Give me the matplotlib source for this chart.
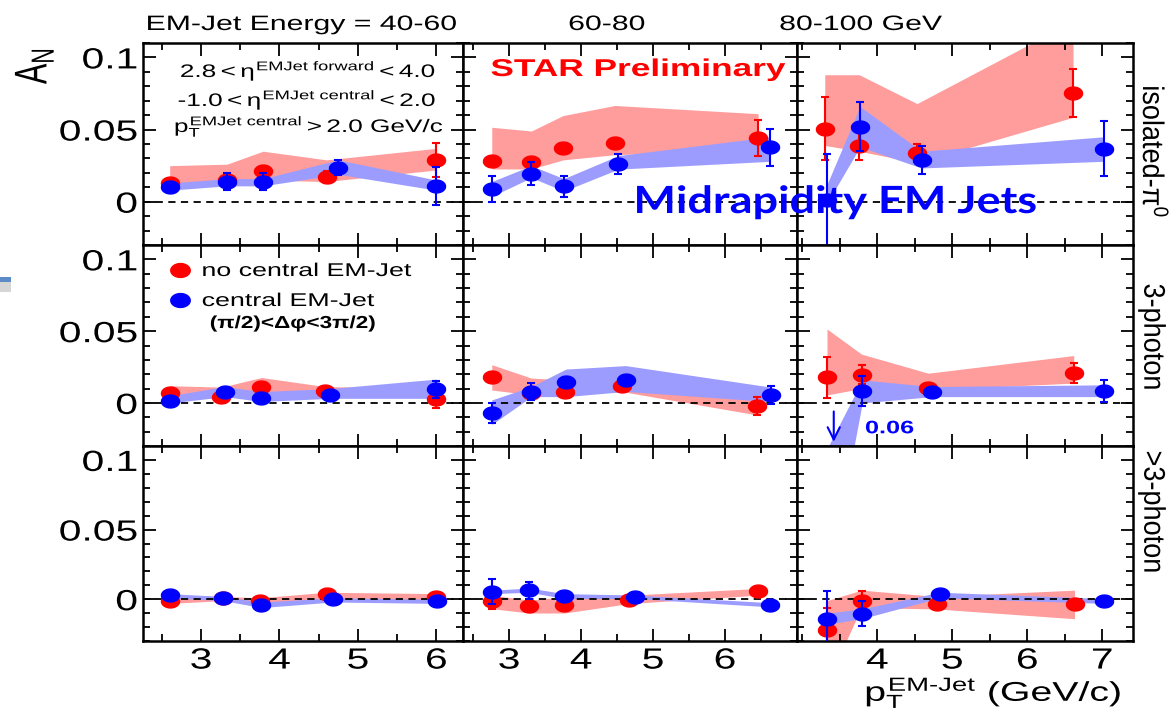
import numpy as np
import matplotlib
matplotlib.use("Agg")
import matplotlib.pyplot as plt
from matplotlib.path import Path
from matplotlib.patheffects import AbstractPathEffect
from matplotlib.transforms import Affine2D
from matplotlib.ticker import MultipleLocator

plt.rcParams['font.family'] = ['Liberation Sans', 'DejaVu Sans']
plt.rcParams['mathtext.fontset'] = 'custom'
plt.rcParams['mathtext.rm'] = 'Liberation Sans'
plt.rcParams['mathtext.it'] = 'Liberation Sans'
plt.rcParams['mathtext.bf'] = 'Liberation Sans:bold'

# A_N vs pT, three EM-jet energy bins (40-60, 60-80, 80-100 GeV) per list
# red = no central EM-jet, blue = with central EM-jet

# --- isolated pi0 ---
iso_red_pt = [[2.6, 3.33, 3.79, 4.6, 6.0], [2.76, 3.31, 3.75, 4.47, 6.46], [3.30, 3.76, 4.53, 6.61]]
iso_red_an = [[0.013, 0.015, 0.021, 0.017, 0.029], [0.028, 0.0276, 0.037, 0.041, 0.044], [0.0507, 0.0389, 0.0338, 0.0755]]
iso_red_err = [[0.003, 0.004, 0.004, 0.004, 0.012], [0.003, 0.003, 0.003, 0.003, 0.0125], [0.022, 0.0097, 0.006, 0.0167]]
iso_red_lo = [[0.010, 0.013, 0.015, 0.014, 0.022], [0.0227, 0.0227, 0.029, 0.0326, 0.036], [0.039, 0.035, 0.027, 0.0585]]
iso_red_hi = [[0.025, 0.026, 0.035, 0.029, 0.037], [0.0516, 0.049, 0.0597, 0.0667, 0.061], [0.088, 0.088, 0.068, 0.125]]
iso_blue_pt = [[2.6, 3.33, 3.79, 4.75, 6.0], [2.76, 3.31, 3.76, 4.52, 6.63], [3.33, 3.77, 4.59, 7.02]]
iso_blue_an = [[0.0105, 0.014, 0.014, 0.0236, 0.011], [0.0088, 0.0194, 0.0106, 0.0264, 0.0377], [0.0014, 0.052, 0.0287, 0.0368]]
iso_blue_err = [[0.003, 0.006, 0.006, 0.005, 0.013], [0.0087, 0.008, 0.0075, 0.007, 0.013], [0.032, 0.017, 0.0098, 0.019]]
iso_blue_lo = [[0.008, 0.011, 0.011, 0.019, 0.008], [0.0037, 0.0167, 0.0074, 0.0226, 0.028], [-0.001, 0.038, 0.0234, 0.028]]
iso_blue_hi = [[0.013, 0.016, 0.016, 0.029, 0.015], [0.014, 0.025, 0.016, 0.032, 0.045], [0.012, 0.066, 0.035, 0.045]]

# --- 3-photon ---
three_red_pt = [[2.6, 3.26, 3.77, 4.58, 6.0], [2.76, 3.31, 3.78, 4.57, 6.45], [3.33, 3.79, 4.68, 6.62]]
three_red_an = [[0.0072, 0.0044, 0.0114, 0.0084, 0.0026], [0.0184, 0.0072, 0.0079, 0.0121, -0.0021], [0.018, 0.0196, 0.0107, 0.0207]]
three_red_err = [[0.002, 0.002, 0.002, 0.002, 0.006], [0.003, 0.003, 0.002, 0.002, 0.006], [0.0143, 0.0065, 0.002, 0.007]]
three_red_lo = [[0.004, 0.003, 0.006, 0.006, 0.004], [0.009, 0.0056, 0.0056, 0.0079, -0.0084], [0.0056, 0.010, 0.0091, 0.0138]]
three_red_hi = [[0.012, 0.011, 0.0177, 0.0114, 0.010], [0.0266, 0.0173, 0.016, 0.0121, 0.0033], [0.0515, 0.034, 0.0207, 0.033]]
three_blue_pt = [[2.6, 3.3, 3.77, 4.64, 6.0], [2.76, 3.31, 3.79, 4.62, 6.64], [3.33, 3.8, 4.73, 7.02]]
three_blue_an = [[0.0016, 0.0079, 0.0037, 0.0056, 0.0096], [-0.0068, 0.0079, 0.0149, 0.016, 0.0056], [-0.06, 0.0086, 0.0079, 0.0084]]
three_blue_err = [[0.002, 0.002, 0.002, 0.002, 0.006], [0.007, 0.006, 0.003, 0.003, 0.006], [0.01, 0.0105, 0.002, 0.0076]]
three_blue_lo = [[-0.0001, 0.0044, 0.001, 0.0032, 0.0032], [-0.015, 0.0044, 0.0044, 0.008, 0.0009], [-0.13, 0.0, 0.0044, 0.0044]]
three_blue_hi = [[0.005, 0.0114, 0.0079, 0.010, 0.0166], [0.0021, 0.0114, 0.0236, 0.026, 0.011], [-0.032, 0.016, 0.0114, 0.0126]]

# --- >3-photon ---
more_red_pt = [[2.6, 3.28, 3.75, 4.6, 6.0], [2.76, 3.28, 3.77, 4.67, 6.46], [3.33, 3.79, 4.79, 6.63]]
more_red_an = [[-0.0012, 0.001, -0.0012, 0.0034, 0.0017], [-0.0012, -0.0049, -0.0039, -0.0007, 0.0058], [-0.022, -0.0012, -0.0036, -0.0036]]
more_red_err = [[0.002, 0.002, 0.002, 0.002, 0.002], [0.0057, 0.002, 0.002, 0.002, 0.002], [0.016, 0.007, 0.002, 0.002]]
more_red_lo = [[-0.003, -0.001, -0.004, 0.0, -0.001], [-0.0068, -0.0099, -0.0099, -0.0031, 0.0029], [-0.06, -0.006, -0.007, -0.014]]
more_red_hi = [[0.003, 0.002, 0.001, 0.005, 0.004], [0.0029, -0.0007, 0.0017, 0.0029, 0.0077], [-0.001, 0.0065, 0.002, 0.0065]]
more_blue_pt = [[2.6, 3.28, 3.77, 4.68, 6.01], [2.76, 3.28, 3.77, 4.75, 6.63], [3.33, 3.79, 4.83, 7.02]]
more_blue_an = [[0.0029, 0.001, -0.0043, -0.0002, -0.0012], [0.0053, 0.0065, 0.0024, 0.0017, -0.0039], [-0.014, -0.0104, 0.0034, -0.0012]]
more_blue_err = [[0.002, 0.002, 0.002, 0.002, 0.002], [0.009, 0.006, 0.002, 0.002, 0.002], [0.02, 0.009, 0.002, 0.002]]
more_blue_lo = [[0.001, -0.001, -0.006, -0.002, -0.003], [0.004, 0.005, 0.0005, 0.0005, -0.0055], [-0.018, -0.014, 0.001, -0.003]]
more_blue_hi = [[0.004, 0.002, -0.002, 0.001, 0.0], [0.0065, 0.008, 0.004, 0.003, -0.0025], [-0.01, -0.007, 0.005, 0.0005]]

energy_titles = ["EM-Jet Energy = 40-60", "60-80", "80-100 GeV"]
row_titles = ["isolated-π$^{0}$", "3-photon", ">3-photon"]
x_ticks = [[3, 4, 5, 6], [3, 4, 5, 6], [4, 5, 6, 7]]
x_limits = [(2.26, 6.34), (2.36, 7.0), (2.93, 7.41)]
y_ticks = [0, 0.05, 0.1]
y_ticklabels = ["0", "0.05", "0.1"]

RED, BLUE = '#ff0000', '#0000ff'
RED_BAND, BLUE_BAND = '#ff9c9c', '#9c9cff'


class Stretch(AbstractPathEffect):
    # the slide got squeezed into a wider box, so all text is wider than normal
    def __init__(self, sx=1.45, anchor='center'):
        super().__init__()
        self.sx = sx
        self.anchor = anchor

    def draw_path(self, renderer, gc, tpath, affine, rgbFace=None):
        ext = tpath.get_extents(affine)
        if self.anchor == 'left':
            x0 = ext.x0
        elif self.anchor == 'right':
            x0 = ext.x1
        else:
            x0 = (ext.x0 + ext.x1) / 2
        aff = affine + Affine2D().translate(-x0, 0).scale(self.sx, 1).translate(x0, 0)
        renderer.draw_path(gc, tpath, aff, rgbFace)


t = np.linspace(0, 2 * np.pi, 60)
blob = Path(np.column_stack([1.4 * np.cos(t), np.sin(t)]), closed=True)

W, H = 1175, 715
fig = plt.figure(figsize=(W / 100, H / 100), dpi=100)

col_px = [(143, 463), (463, 797), (797, 1133)]
row_px = [(43, 245), (245, 446), (446, 641)]

rows = [
    (iso_red_pt, iso_red_an, iso_red_err, iso_red_lo, iso_red_hi,
     iso_blue_pt, iso_blue_an, iso_blue_err, iso_blue_lo, iso_blue_hi),
    (three_red_pt, three_red_an, three_red_err, three_red_lo, three_red_hi,
     three_blue_pt, three_blue_an, three_blue_err, three_blue_lo, three_blue_hi),
    (more_red_pt, more_red_an, more_red_err, more_red_lo, more_red_hi,
     more_blue_pt, more_blue_an, more_blue_err, more_blue_lo, more_blue_hi),
]

axes = {}
for r, (y0, y1) in enumerate(row_px):
    rpt, ran, rerr, rlo, rhi, bpt, ban, berr, blo, bhi = rows[r]
    for c, (x0, x1) in enumerate(col_px):
        ax = fig.add_axes([x0 / W, 1 - y1 / H, (x1 - x0) / W, (y1 - y0) / H])
        axes[r, c] = ax
        ax.fill_between(rpt[c], rlo[c], rhi[c], color=RED_BAND, lw=0, zorder=1)
        ax.fill_between(bpt[c], blo[c], bhi[c], color=BLUE_BAND, lw=0, zorder=2)
        ax.axhline(0, color='k', ls=(0, (4, 3)), lw=1.3, zorder=3)
        ax.errorbar(rpt[c], ran[c], yerr=rerr[c], fmt='none', ecolor=RED,
                    elinewidth=1.5, capsize=3, capthick=1.5, zorder=4)
        ax.plot(rpt[c], ran[c], ls='none', marker=blob, ms=13, color=RED, zorder=4)
        ax.errorbar(bpt[c], ban[c], yerr=berr[c], fmt='none', ecolor=BLUE,
                    elinewidth=1.5, capsize=3, capthick=1.5, zorder=5)
        ax.plot(bpt[c], ban[c], ls='none', marker=blob, ms=13, color=BLUE, zorder=5)

        ax.set_xlim(*x_limits[c])
        ax.set_ylim(-0.03, 0.11)
        ax.set_xticks(x_ticks[c])
        ax.set_yticks(y_ticks)
        ax.xaxis.set_minor_locator(MultipleLocator(0.5))
        ax.yaxis.set_minor_locator(MultipleLocator(0.01))
        ax.tick_params(which='both', direction='in', top=True, right=True,
                       width=1.3, labelsize=21)
        ax.tick_params(which='major', length=9)
        ax.tick_params(which='minor', length=5)
        ax.tick_params(axis='y', pad=4)
        ax.tick_params(axis='x', pad=4)
        for sp in ax.spines.values():
            sp.set_linewidth(1.8)
        if c == 0:
            ax.set_yticklabels(y_ticklabels)
            for lab in ax.get_yticklabels():
                lab.set_path_effects([Stretch(1.4, 'right')])
        else:
            ax.set_yticklabels([])
        if r == 2:
            ax.set_xticklabels([str(v) for v in x_ticks[c]])
            for lab in ax.get_xticklabels():
                lab.set_path_effects([Stretch(1.4)])
        else:
            ax.set_xticklabels([])


def ftext(x, y, s, sx=1.45, anchor='center', **kw):
    txt = fig.text(x / W, 1 - y / H, s, **kw)
    txt.set_path_effects([Stretch(sx, anchor)])
    return txt


# column headers
for xc, s in zip([302, 607, 861], energy_titles):
    ftext(xc, 30, s, fontsize=15, ha='center', va='baseline')

# row labels on the right
for yc, s in zip([152, 337, 512], row_titles):
    ftext(1152, yc, s, sx=1.1, fontsize=19.5, rotation=-90, ha='center', va='center')

ftext(34, 66, r"$A_N$", sx=1.5, fontsize=22, rotation=90, ha='center', va='center')
ftext(1122, 701, r"$p_{\rm T}^{\text{EM-Jet}}$ (GeV/c)", sx=1.45, anchor='right',
      fontsize=19.5, ha='right', va='baseline')

# cuts
ftext(308, 77, r"$2.8 < \eta^{\rm EMJet\ forward} <4.0$", fontsize=13, ha='center', va='baseline')
ftext(307, 106, r"$\text{-1.0} < \eta^{\rm EMJet\ central} < 2.0$", fontsize=13, ha='center', va='baseline')
ftext(309, 132, r"$p_{\rm T}^{\rm EMJet\ central} > 2.0\ \mathrm{GeV/c}$", fontsize=13, ha='center', va='baseline')

ftext(638, 76, "STAR Preliminary", fontsize=17.5, fontweight='bold', color=RED,
      ha='center', va='baseline')
ftext(835, 213, "Midrapidity EM Jets", sx=1.2, fontsize=27, fontweight='bold',
      family='Lato', color=BLUE, ha='center', va='baseline')

# legend in the middle-left panel
leg = axes[1, 0]
leg.plot([0.116], [0.876], ls='none', marker=blob, ms=14, color=RED, transform=leg.transAxes, clip_on=False)
leg.plot([0.116], [0.726], ls='none', marker=blob, ms=14, color=BLUE, transform=leg.transAxes, clip_on=False)
ftext(202, 276, "no central EM-Jet", anchor='left', fontsize=13.3, ha='left', va='baseline')
ftext(202, 306, "central EM-Jet", anchor='left', fontsize=13.3, ha='left', va='baseline')
ftext(210, 328, "(π/2)<Δφ<3π/2)", sx=1.3, anchor='left', fontsize=12.5, fontweight='bold',
      ha='left', va='baseline')

# arrow for the off-scale blue point (80-100 GeV, 3-photon)
ax = axes[1, 2]
ax.annotate('', xy=(3.42, -0.029), xytext=(3.42, -0.004),
            arrowprops=dict(arrowstyle='->', color=BLUE, lw=1.5, mutation_scale=22))
t06 = ax.text(3.84, -0.018, "0.06", color=BLUE, fontsize=13, fontweight='bold', va='center', ha='left')
t06.set_path_effects([Stretch(1.4, 'left')])

# leftover bit of the slide decoration on the far left
fig.add_artist(plt.Rectangle((0, 1 - 282 / H), 11 / W, 5 / H, transform=fig.transFigure,
                             color='#5b8cc8', lw=0))
fig.add_artist(plt.Rectangle((0, 1 - 292 / H), 11 / W, 10 / H, transform=fig.transFigure,
                             color='#d6d6d6', lw=0))

fig.savefig('out.png', dpi=100)
